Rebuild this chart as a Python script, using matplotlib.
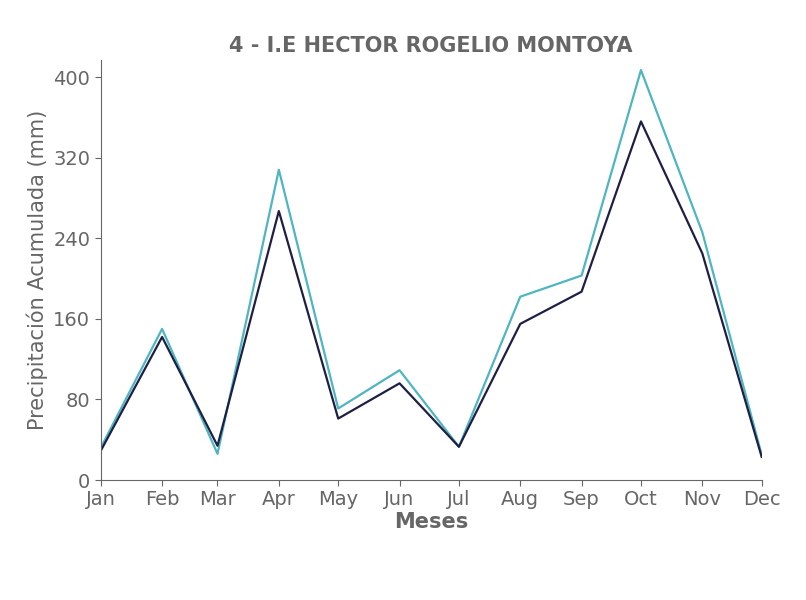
import matplotlib
matplotlib.use("Agg")
import matplotlib.pyplot as plt
import matplotlib.dates as mdates
import datetime as dt

months = ["Jan", "Feb", "Mar", "Apr", "May", "Jun", "Jul", "Aug", "Sep", "Oct", "Nov", "Dec"]
serie_teal = [32, 150, 26, 308, 71, 109, 33, 182, 203, 407, 246, 25]
serie_dark = [29, 142, 34, 267, 61, 96, 33, 155, 187, 356, 225, 23]
yticks = [0, 80, 160, 240, 320, 400]

gray = "#666666"
fig = plt.figure(figsize=(8.06, 6.0), dpi=100)
ax = fig.add_axes([0.125, 0.2, 0.82, 0.7])
x = [dt.date(2021, m, 1) for m in range(1, 13)]
ax.plot(x, serie_teal, color="#4db6c1", lw=1.6)
ax.plot(x, serie_dark, color="#1f1f45", lw=1.6)
ax.set_xlim(x[0], x[-1])
ax.set_ylim(0, 417)
ax.set_xticks(x)
ax.set_xticklabels(months)
ax.set_yticks(yticks)
for s in ["top", "right"]:
    ax.spines[s].set_visible(False)
for s in ["left", "bottom"]:
    ax.spines[s].set_color(gray)
ax.tick_params(colors=gray, labelsize=14, length=4)
ax.set_xlabel("Meses", fontsize=15, fontweight="bold", color=gray, labelpad=2)
ax.set_ylabel("Precipitación Acumulada (mm)", fontsize=15, color=gray)
ax.set_title("4 - I.E HECTOR ROGELIO MONTOYA", fontsize=15, fontweight="bold", color=gray)
fig.savefig("out.png", dpi=100)
